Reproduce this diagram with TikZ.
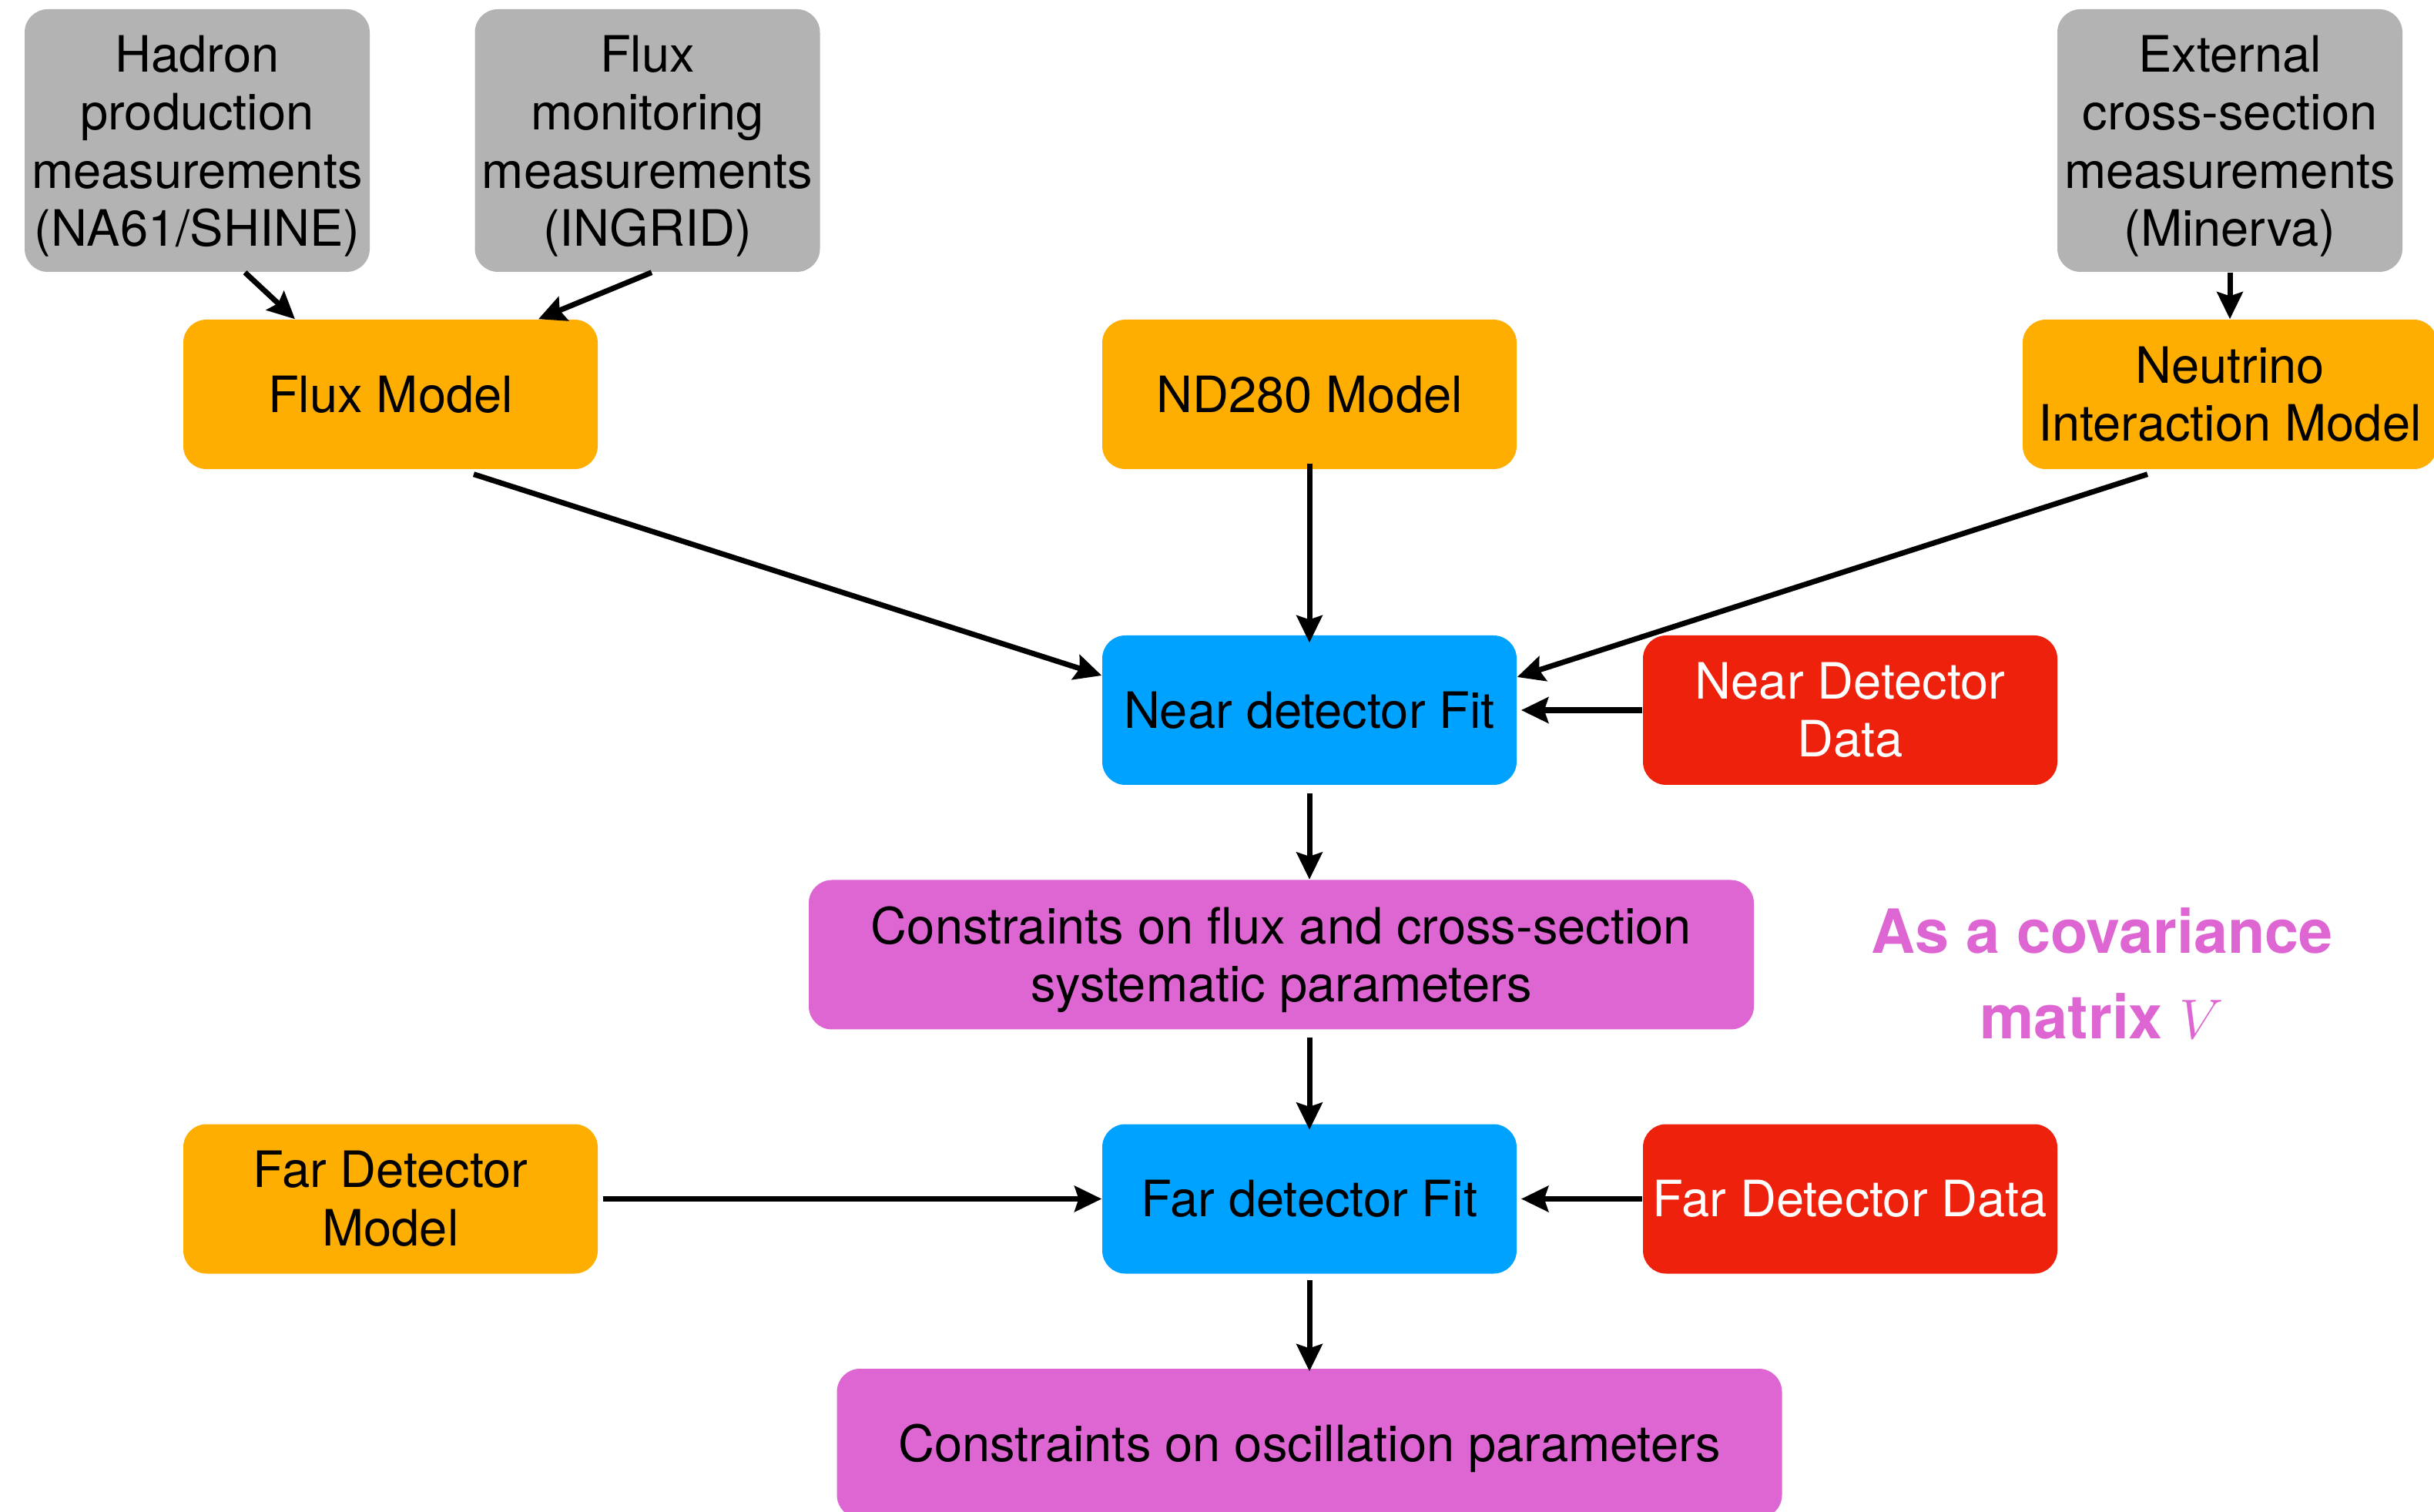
\documentclass[tikz,border=0pt]{standalone}
\usepackage{fontspec}
\setmainfont{TeX Gyre Heros}
\usepackage{xcolor}
\usepackage{tikz}
\usetikzlibrary{arrows.meta}
\definecolor{measgray}{HTML}{B3B3B3}
\definecolor{modelorange}{HTML}{FEAE00}
\definecolor{fitblue}{HTML}{00A2FF}
\definecolor{datared}{HTML}{EE220C}
\definecolor{conspink}{HTML}{DE66D3}
\newcommand{\dropstrut}{\rule{0pt}{17.5pt}}

\begin{document}
\begin{tikzpicture}[>={Stealth[length=10pt,width=9.5pt,inset=1.5pt]},
    box/.style={rounded corners=0.3cm, align=center, inner sep=0pt,
        minimum width=5.38cm, minimum height=1.94cm,
        font=\fontsize{18.5}{21.5}\selectfont},
    meas/.style={box, fill=measgray, minimum width=4.48cm, minimum height=3.41cm},
    model/.style={box, fill=modelorange},
    fit/.style={box, fill=fitblue},
    data/.style={box, fill=datared, text=white},
    cons/.style={box, fill=conspink, minimum width=12.27cm},
    link/.style={->, line width=2pt}]
\useasboundingbox (0,0) rectangle (31.6,19.62);
\node[meas]  (hadron)    at (2.56,17.795)  {\dropstrut Hadron\\production\\measurements\\(NA61/SHINE)};
\node[meas]  (fluxmeas)  at (8.405,17.795) {\dropstrut Flux\\monitoring\\measurements\\(INGRID)};
\node[meas]  (xsecmeas)  at (28.95,17.795) {\dropstrut External\\cross-section\\measurements\\(Minerva)};
\node[model] (fluxmodel) at (5.07,14.50)   {Flux Model};
\node[model] (ndmodel)   at (17.00,14.50)  {ND280 Model};
\node[model] (nuint)     at (28.95,14.50)  {Neutrino\\Interaction Model};
\node[fit]   (nearfit)   at (17.00,10.40)  {Near detector Fit};
\node[data]  (neardata)  at (24.02,10.40)  {Near Detector\\Data};
\node[cons]  (ndcons)    at (16.635,7.225) {\dropstrut Constraints on flux and cross-section\\systematic parameters};
\node[text=conspink, align=center, font=\fontsize{22.5}{31.5}\bfseries\selectfont]
    (covtext) at (27.29,6.98) {As a covariance\\matrix $V$};
\node[model] (fdmodel)   at (5.07,4.055)   {Far Detector\\Model};
\node[fit]   (farfit)    at (17.00,4.055)  {Far detector Fit};
\node[data]  (fardata)   at (24.02,4.055)  {Far Detector Data};
\node[cons]  (osccons)   at (17.00,0.88)   {\dropstrut Constraints on oscillation parameters};
% inputs to the models
\draw[link] ([xshift=0.62cm]hadron.south) -- ([xshift=-1.24cm]fluxmodel.north);
\draw[link] ([xshift=0.055cm]fluxmeas.south) -- ([xshift=1.92cm]fluxmodel.north);
\draw[link] (xsecmeas.south) -- (nuint.north);
% near detector
\draw[link] ([xshift=1.08cm,yshift=-0.06cm]fluxmodel.south) -- ([yshift=0.45cm]nearfit.west);
\draw[link, shorten <=-0.08cm, shorten >=-0.1cm] (ndmodel.south) -- (nearfit.north);
\draw[link] ([xshift=-1.07cm,yshift=-0.06cm]nuint.south) -- ([yshift=0.43cm]nearfit.east);
\draw[link, shorten >=1.5pt] (neardata.west) -- (nearfit.east);
\draw[link, shorten <=0.1cm] (nearfit.south) -- (ndcons.north -| nearfit.south);
% far detector
\draw[link, shorten <=0.1cm, shorten >=-0.08cm] (ndcons.south -| farfit.north) -- (farfit.north);
\draw[link, shorten <=0.06cm] (fdmodel.east) -- (farfit.west);
\draw[link, shorten >=1.5pt] (fardata.west) -- (farfit.east);
\draw[link, shorten <=0.08cm, shorten >=-0.04cm] (farfit.south) -- (osccons.north);
\end{tikzpicture}
\end{document}
